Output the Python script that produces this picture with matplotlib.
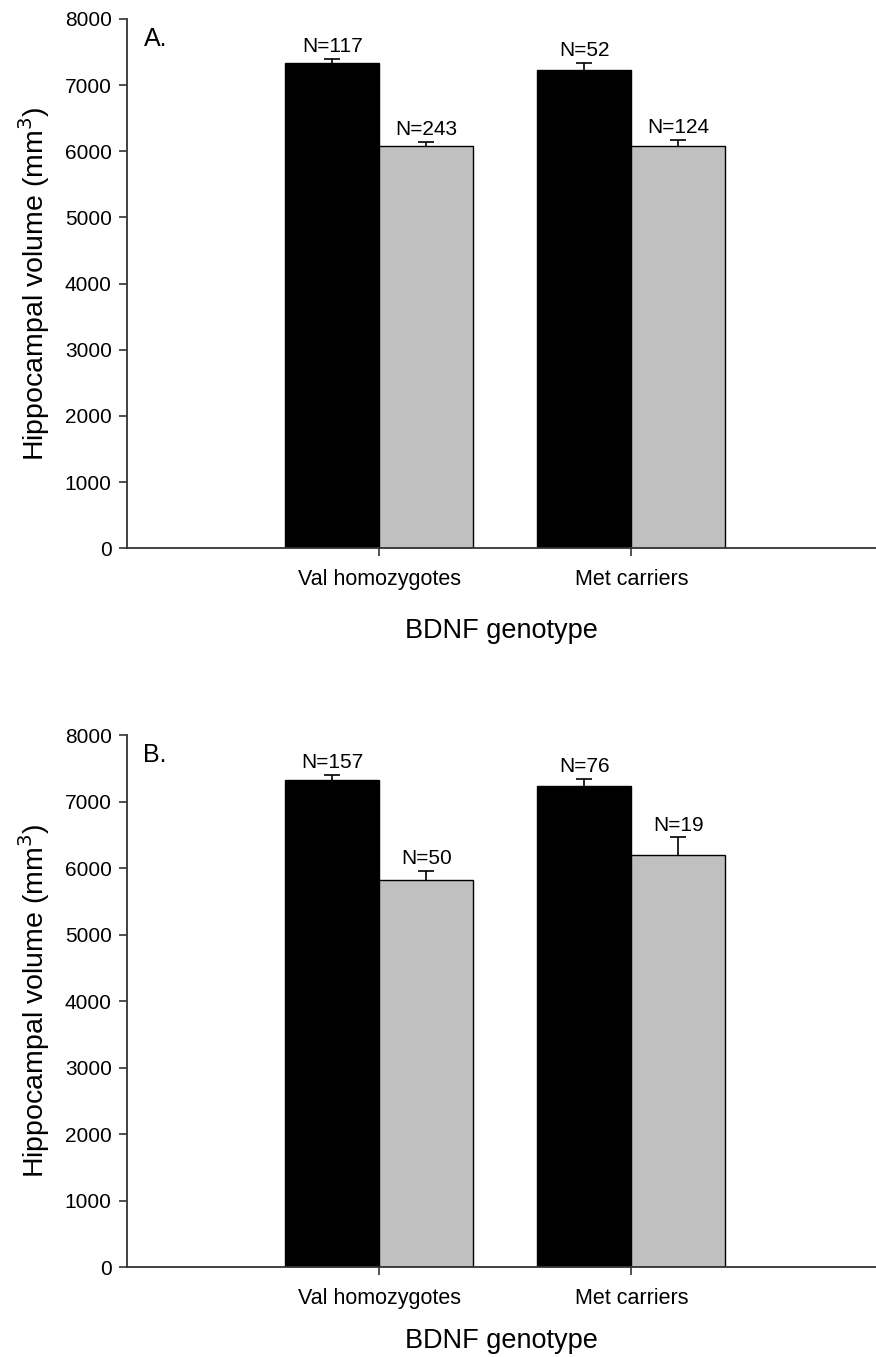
import matplotlib
matplotlib.use("Agg")
import matplotlib.pyplot as plt
import numpy as np

plt.rcParams['font.family'] = ['Liberation Sans', 'DejaVu Sans']

categories = ["Val homozygotes", "Met carriers"]
yticks = [0, 1000, 2000, 3000, 4000, 5000, 6000, 7000, 8000]

# Panel A
a_black = [7330, 7225]
a_black_err = [70, 110]
a_gray = [6083, 6083]
a_gray_err = [65, 85]
a_black_n = ["N=117", "N=52"]
a_gray_n = ["N=243", "N=124"]

# Panel B
b_black = [7330, 7240]
b_black_err = [75, 105]
b_gray = [5816, 6193]
b_gray_err = [140, 270]
b_black_n = ["N=157", "N=76"]
b_gray_n = ["N=50", "N=19"]

fig = plt.figure(figsize=(8.76, 13.57), dpi=100)

def up_errorbar(ax, xs, vals, errs):
    _, caps, _ = ax.errorbar(xs, vals, yerr=[np.zeros(len(errs)), errs], fmt='none',
                             ecolor='black', elinewidth=1.2, capsize=5.8,
                             capthick=1.2, zorder=1)
    # hide lower caps (only upper error shown)
    if len(caps) >= 2:
        caps[0].set_visible(False)

def panel(rect, black, berr, gray, gerr, bn, gn, letter, xlabelpad):
    ax = fig.add_axes(rect)
    x = np.arange(1, len(categories) + 1)
    w = 0.373
    ax.bar(x - w / 2, black, w, color='black', edgecolor='black', linewidth=1, zorder=2)
    ax.bar(x + w / 2, gray, w, color='#c0c0c0', edgecolor='black', linewidth=1, zorder=2)
    up_errorbar(ax, x - w / 2, black, berr)
    up_errorbar(ax, x + w / 2, gray, gerr)
    for xi, v, e, t in zip(x - w / 2, black, berr, bn):
        ax.annotate(t, (xi, v + e), xytext=(0, 2), textcoords='offset points',
                    ha='center', va='bottom', fontsize=15)
    for xi, v, e, t in zip(x + w / 2, gray, gerr, gn):
        ax.annotate(t, (xi, v + e), xytext=(0, 2), textcoords='offset points',
                    ha='center', va='bottom', fontsize=15)
    ax.set_xlim(0, 2.97)
    ax.set_ylim(0, 8000)
    ax.set_yticks(yticks)
    ax.set_yticklabels([str(t) for t in yticks], fontsize=15)
    ax.set_xticks(x)
    ax.set_xticklabels(categories, fontsize=15.5)
    for s in ['top', 'right']:
        ax.spines[s].set_visible(False)
    for s in ['left', 'bottom']:
        ax.spines[s].set_linewidth(1.3)
        ax.spines[s].set_color('#333333')
    ax.tick_params(axis='both', direction='out', length=6, width=1.2, color='#333333')
    ax.tick_params(axis='x', pad=9)
    ax.tick_params(axis='y', pad=5)
    ax.set_ylabel('Hippocampal volume (mm$^3$)', fontsize=20.5, labelpad=9)
    ax.set_xlabel('BDNF genotype', fontsize=19.5, labelpad=xlabelpad)
    ax.text(0.022, 0.985, letter, transform=ax.transAxes, fontsize=18, ha='left', va='top')
    return ax

panel([0.145, 0.596, 0.855, 0.390], a_black, a_black_err, a_gray, a_gray_err,
      a_black_n, a_gray_n, 'A.', 20)
panel([0.145, 0.0663, 0.855, 0.392], b_black, b_black_err, b_gray, b_gray_err,
      b_black_n, b_gray_n, 'B.', 14)

fig.savefig('out.png', dpi=100)
